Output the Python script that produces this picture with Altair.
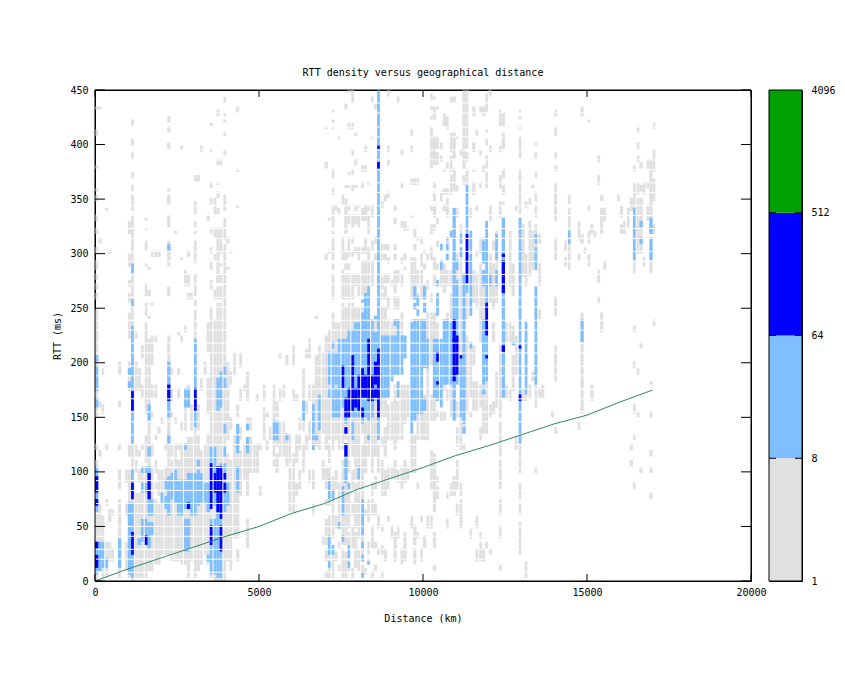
import math
import altair as alt
import pandas as pd

FONT = "DejaVu Sans Mono"
C_GREY, C_LIGHT, C_DARK, C_GREEN = "#e0e0e0", "#7fbfff", "#0000ff", "#00a000"

# column index (100 km bins) -> RTT ranges in ms
GREY = {
 0:[(0,110),(120,125),(150,247),(258,262),(268,271),(277,280),(287,292),(302,305),(320,324),(330,334),(350,352),(357,360),(378,380),(410,413),(432,435)],
 1:[(10,70),(115,120),(160,165),(310,313),(432,435)],2:[(5,60),(155,160),(190,195)],3:[(5,35),(70,75),(120,125),(340,342)],
 4:[(20,35),(55,65),(300,303)],5:[(20,30),(60,65)],7:[(5,75),(85,100),(120,125),(160,165),(190,200)],9:[(10,35),(60,70),(90,100)],
 10:[(4,100),(115,125),(175,200),(222,245),(255,262),(270,275),(290,298),(320,328)],
 11:[(0,290),(293,299),(302,323),(325,334),(340,343),(344,352),(357,361),(369,373),(387,392),(400,403),(418,421)],
 12:[(5,80),(100,110),(115,125),(175,200),(222,226)],13:[(5,80),(90,100),(115,120),(175,195)],
 14:[(5,100),(120,125),(170,180),(205,215)],
 15:[(5,105),(110,135),(155,235),(243,253),(262,265),(268,271),(288,291),(305,312),(321,324),(330,333)],
 16:[(10,220),(240,243),(262,265),(285,288)],17:[(10,105),(115,125),(150,155),(170,180),(200,225),(252,254),(298,302)],
 18:[(15,75),(85,90),(100,110),(130,135),(170,180),(220,223),(298,302)],19:[(15,70),(80,100),(135,140),(298,302)],
 20:[(25,100),(145,150)],21:[(25,105),(120,125)],
 22:[(25,225),(263,265),(268,270),(290,305),(310,312),(326,334),(346,349),(350,353),(358,360),(397,400),(413,416),(422,425)],
 23:[(20,110),(115,125),(150,155),(165,175),(190,195)],24:[(20,125),(145,150),(318,320)],25:[(20,110),(120,125),(170,175),(190,195),(225,228)],
 26:[(15,125),(140,145),(220,223),(295,297),(396,398)],27:[(15,125),(140,170),(228,232),(272,285)],28:[(5,130),(176,180),(258,262),(272,280),(298,302)],
 29:[(20,130),(140,160),(260,263)],
 30:[(5,225),(226,238),(240,247),(252,258),(262,268),(272,280),(293,299),(302,310),(318,321),(326,329),(336,340),(343,346),(368,371)],
 31:[(10,135),(140,160),(368,372)],32:[(15,120),(175,185),(395,398)],33:[(25,125),(190,200)],
 34:[(15,135),(155,185),(210,235),(330,334)],
 35:[(5,250),(268,276),(287,292),(302,305),(318,322),(345,350),(362,365),(393,395),(418,420)],
 36:[(0,240),(258,265),(296,299),(316,322),(336,344),(345,350)],
 37:[(0,253),(260,268),(275,280),(283,298),(302,323),(336,341),(351,355),(363,366),(383,386),(427,430)],
 38:[(0,253),(260,268),(275,280),(288,291),(302,323),(383,386)],
 39:[(0,292),(293,302),(302,308),(314,322),(326,332),(340,343),(347,352),(390,395),(409,411),(421,423),(427,429),(438,443)],
 40:[(20,115),(130,200),(285,288),(310,314)],41:[(10,110),(140,150),(180,190),(300,303)],42:[(40,110),(110,135),(190,210)],
 43:[(20,30),(40,115),(120,130),(150,160),(342,345),(375,378),(430,433)],44:[(80,120),(130,140),(165,175),(195,210)],45:[(95,125),(175,180)],
 46:[(30,55),(80,130),(145,150),(165,190)],47:[(100,130),(140,150)],48:[(100,125)],49:[(100,125),(165,170)],50:[(80,85),(120,125)],
 51:[(130,157),(165,178)],52:[(122,128),(150,155)],53:[(130,140)],
 54:[(105,110),(115,180)],55:[(100,115),(125,130),(150,165)],56:[(115,145),(165,175),(205,210)],57:[(115,145),(170,180)],
 58:[(105,135),(200,205)],59:[(65,105),(85,90),(110,135)],60:[(65,115),(165,175),(200,215)],61:[(80,90),(110,135),(165,170)],
 62:[(85,100),(120,135),(140,150)],63:[(100,125),(140,195)],64:[(120,135),(155,165),(205,212)],65:[(90,100),(130,145),(165,180),(205,220)],
 66:[(60,70),(85,100),(120,180)],67:[(125,205),(240,243)],68:[(120,215)],69:[(35,40),(95,110),(135,210)],
 70:[(5,8),(20,30),(35,55),(70,75),(85,105),(120,225),(296,300),(380,382),(415,417)],
 71:[(5,60),(70,105),(110,125),(130,230),(300,303),(330,333)],
 72:[(5,30),(40,95),(120,244),(258,282),(286,290),(296,300),(302,314),(318,320),(326,334),(338,343),(355,358),(371,373),(375,377),(414,416),(421,423),(430,432)],
 73:[(20,25),(50,60),(85,100),(130,235),(340,343)],74:[(10,14),(30,35),(50,90),(120,235),(337,340),(406,408)],
 75:[(5,30),(35,70),(80,110),(120,253),(258,268),(272,285),(296,302),(302,313),(347,352)],
 76:[(5,25),(35,125),(130,251),(260,268),(272,280),(285,290),(296,302),(318,325),(328,343),(347,350),(360,363),(433,436)],
 77:[(10,14),(20,45),(50,90),(100,110),(115,253),(258,268),(272,280),(285,290),(299,302),(305,313),(328,334),(340,343),(360,362),(372,375),(415,418),(447,450)],
 78:[(5,10),(30,50),(60,70),(85,100),(115,253),(258,268),(272,280),(299,302),(310,313),(325,334),(358,361),(372,376),(392,396),(415,418),(440,450)],
 79:[(12,17),(20,45),(50,90),(95,250),(270,280),(300,306),(328,334),(340,344),(360,363),(383,386),(408,410)],
 80:[(10,30),(40,80),(85,250),(262,268),(272,282),(296,306),(326,334),(342,345)],
 81:[(10,14),(20,125),(135,250),(262,268),(270,293),(300,305),(330,340),(360,365),(376,380)],
 82:[(8,12),(60,65),(100,240),(262,292),(300,313),(330,343),(376,380),(395,398)],
 83:[(15,20),(25,35),(55,75),(115,240),(265,292),(296,305),(320,334),(340,345),(363,366)],
 84:[(5,8),(30,50),(60,75),(80,90),(100,240),(270,292),(305,310),(335,345),(405,408),(440,443)],
 85:[(10,14),(30,35),(60,70),(85,95),(115,240),(296,300),(310,313),(432,436)],
 86:[(25,30),(50,58),(100,125)],
 87:[(5,8),(25,32),(45,50),(80,110),(125,130),(150,180),(220,250),(260,262),(268,279),(295,298),(305,308),(343,346)],
 88:[(20,30),(80,100),(115,140),(150,170),(220,250),(260,270),(275,280),(295,298),(305,308),(349,352)],
 89:[(55,60),(85,105),(130,160),(220,240),(250,260),(275,280),(292,295),(305,308),(352,355),(382,385),(395,398),(445,448)],
 90:[(40,50),(95,105),(130,165),(220,235),(270,275)],
 91:[(20,45),(95,110),(120,180),(220,240),(250,260),(265,285),(295,298),(305,308),(328,332),(340,343)],
 92:[(40,50),(90,100),(130,165),(220,240),(250,260),(275,285),(440,443)],
 93:[(15,30),(85,105),(130,180),(220,245),(270,282),(293,296),(326,329),(361,364),(391,394)],
 94:[(20,45),(90,110),(145,180),(285,288),(295,298),(322,328)],95:[(95,105),(150,180),(321,324)],
 96:[(50,60),(100,135),(155,185),(220,240),(260,268),(272,283),(287,297),(333,336),(365,368),(394,398),(409,412)],
 97:[(15,30),(35,50),(100,135),(155,220),(225,235),(260,268),(272,283),(287,295),(305,308),(317,323),(365,368)],
 98:[(40,45),(85,90),(130,170),(220,235),(255,262),(270,285),(365,368),(312,315)],
 99:[(20,30),(55,60),(130,170),(220,240),(260,270),(272,283),(290,300),(310,314)],
 100:[(30,40),(130,170),(220,240),(260,272),(285,290),(300,303)],101:[(50,60),(130,200),(220,245),(268,275),(295,300)],
 102:[(50,60),(85,120),(147,170),(200,245),(255,262),(295,305),(320,325),(340,345),(378,395),(396,415),(423,425),(432,435),(442,445)],
 103:[(10,15),(30,45),(65,115),(147,170),(200,245),(272,282),(287,296),(321,326),(335,343),(350,355),(362,365),(381,392),(392,407),(423,430),(432,435),(441,444)],
 104:[(75,85),(90,95),(150,156),(220,235),(285,290),(308,312),(328,332),(381,393),(397,407),(432,435)],105:[(148,155),(170,180),(270,285),(350,355),(385,390),(397,400)],
 106:[(148,155),(175,200),(265,290),(340,343),(355,360),(375,378),(418,422),(425,428)],
 107:[(50,55),(75,80),(165,175),(220,245),(270,285),(305,312),(333,350),(355,360),(380,383),(415,424)],
 108:[(80,90),(150,238),(240,262),(272,285),(355,370),(375,390),(395,410),(440,443)],
 109:[(80,95),(165,180),(265,300),(315,325),(357,365),(366,376),(387,410),(440,443)],
 110:[(60,70),(85,110),(125,140),(150,165),(240,300),(335,340),(358,363),(405,408)],
 111:[(50,75),(80,90),(120,145),(145,260),(262,300),(320,325),(390,395)],
 112:[(120,125),(135,150),(170,260),(364,370),(380,400),(402,450)],
 113:[(155,225),(240,262),(275,300),(335,345),(364,376),(385,392),(397,415),(415,449)],
 114:[(40,48),(150,155),(170,215),(245,250),(300,305),(335,340)],115:[(156,182),(200,215),(255,285),(355,365),(375,378),(395,400),(428,433)],
 116:[(20,30),(50,60),(156,182),(250,280),(298,302),(340,345),(410,413)],
 117:[(20,35),(40,45),(130,140),(160,180),(220,290),(300,315),(362,365),(390,395),(430,433)],
 118:[(20,30),(135,182),(240,280),(292,298),(310,315),(375,380),(428,435)],
 119:[(30,35),(135,185),(210,225),(285,300),(362,365),(367,373),(380,382),(384,390),(400,403),(412,414),(430,445)],
 120:[(25,30),(150,160),(255,300),(330,345),(394,397),(445,448)],
 121:[(155,165),(220,235),(250,290),(305,310)],122:[(160,190),(255,320)],
 123:[(10,15),(40,50),(60,75),(85,110),(115,145),(150,215),(335,347),(360,372),(395,398),(418,430)],
 124:[(170,175),(215,220),(280,320),(345,348),(354,363),(369,377),(397,410),(418,427)],125:[(170,180),(220,235)],126:[(165,175),(220,235),(270,320)],127:[(175,196),(200,205),(220,232),(262,290)],
 128:[(120,130),(190,225),(340,344)],
 129:[(25,54),(60,70),(75,90),(100,130),(220,331),(338,364),(367,377),(389,391),(393,396),(398,407),(414,417),(423,426),(429,432)],
 130:[(165,175),(280,320),(320,325)],131:[(5,18),(165,180),(205,222),(236,240),(270,300),(344,348)],
 132:[(170,180),(280,330),(345,350)],133:[(185,190),(285,320),(360,362)],
 134:[(100,105),(160,220),(240,270),(290,320),(320,325),(335,345),(350,355),(370,375),(387,391),(399,401)],135:[(170,175),(240,248),(272,290),(310,316)],
 136:[(170,180)],
 139:[(150,155)],140:[(135,140),(185,215),(245,260),(295,315),(330,355),(357,365),(375,380),(387,392),(410,416),(427,430)],
 143:[(290,295),(305,312)],144:[(286,300),(302,311),(320,325),(323,342),(345,352)],
 147:[(140,145),(295,300),(312,330)],148:[(155,220),(238,245),(310,316),(428,433)],149:[(300,305)],
 150:[(290,300),(310,320),(340,345),(420,423)],151:[(165,180),(318,325)],152:[(315,320)],
 153:[(255,260),(275,285),(365,370),(385,390)],154:[(230,245),(320,340),(348,352)],155:[(285,292),(330,340)],
 159:[(350,352)],160:[(320,325),(335,345)],161:[(320,330)],162:[(325,340)],163:[(105,110),(120,125),(340,350)],
 164:[(85,90),(130,135),(155,160),(195,200),(228,232),(283,292),(294,345),(345,365),(375,380)],
 165:[(150,155),(190,195),(300,350),(355,365),(385,390),(398,401),(413,416)],
 166:[(100,103),(215,218),(300,350),(358,362),(380,383)],167:[(290,295),(355,365)],
 168:[(330,345),(360,365),(380,385)],
 169:[(75,80),(100,105),(115,120),(150,155),(180,183),(283,292),(320,340),(340,385)],
 170:[(235,240),(318,325),(350,368),(375,395),(416,419)],
}
LIGHT = {
 0:[(7,34),(65,103),(160,166),(175,197),(203,206)],1:[(10,34)],2:[(13,19),(22,34)],3:[(13,19)],7:[(13,37)],
 10:[(7,50),(53,71),(177,183),(190,195)],11:[(4,71),(77,102),(126,221),(221,225),(226,229),(230,233),(254,257),(284,290)],
 13:[(34,37)],14:[(38,56),(83,89),(99,103)],15:[(38,56),(83,89),(99,103)],16:[(32,53),(62,103),(116,123),(149,161)],17:[(42,53),(62,75)],
 20:[(74,80)],21:[(85,92),(68,76)],22:[(151,201),(126,134),(60,95),(305,308)],23:[(75,97)],24:[(72,100)],25:[(62,93)],26:[(62,93)],27:[(68,92),(28,56),(122,124),(161,176)],
 28:[(28,56),(68,99),(161,176)],29:[(62,99)],30:[(60,99),(143,221)],31:[(70,100),(105,110)],32:[(74,99)],33:[(74,90)],34:[(64,90),(20,24)],
 35:[(7,56),(68,123)],36:[(7,56),(70,123)],37:[(4,105),(157,184)],38:[(4,108),(160,190)],39:[(65,108),(115,123),(135,143),(178,185),(190,197)],
 40:[(70,90)],43:[(83,105),(117,132),(134,143)],46:[(117,132),(140,143)],
 54:[(130,146)],55:[(130,146)],58:[(131,134)],63:[(148,164)],66:[(122,124),(129,161)],67:[(131,133)],68:[(140,170)],
 71:[(12,16),(25,40),(77,91),(170,175),(180,209)],72:[(25,31),(77,82),(150,210),(215,218)],73:[(180,209),(150,175)],74:[(50,53),(150,222)],
 75:[(36,40),(60,85),(160,222)],76:[(90,125),(145,222)],77:[(12,16),(21,25),(28,31),(85,90),(150,223),(221,229)],78:[(130,145),(150,229)],
 79:[(150,236)],80:[(95,105),(150,236)],81:[(5,8),(20,24),(30,36),(42,75),(145,240),(241,244),(257,258)],82:[(150,262)],83:[(15,18),(130,135),(148,268)],
 84:[(150,240)],85:[(165,228),(240,243)],86:[(130,452)],87:[(170,225)],88:[(170,225)],89:[(170,225)],90:[(185,225)],
 91:[(190,225),(234,238)],92:[(170,183),(190,238)],93:[(190,225)],94:[(205,225)],96:[(135,221),(221,236)],97:[(148,238),(251,254),(260,268)],
 98:[(155,238),(245,248),(252,260)],99:[(155,238)],100:[(158,166),(196,238),(248,254),(260,268)],101:[(195,221)],
 103:[(170,221)],104:[(165,221),(245,262),(272,276)],105:[(160,221),(287,292),(305,308)],106:[(181,238)],107:[(181,240),(305,308),(312,315),(296,299)],
 108:[(181,235),(317,320)],109:[(149,342)],110:[(181,275),(286,292)],111:[(150,205),(297,304),(310,317)],112:[(137,140),(146,260),(262,280)],
 113:[(264,361)],114:[(215,218),(245,260),(262,300),(305,320)],118:[(173,176),(180,238),(270,285),(293,310)],
 119:[(183,202),(203,326),(326,329)],120:[(270,282)],122:[(270,285),(295,312),(314,317)],124:[(170,332)],127:[(216,218)],
 129:[(126,331)],131:[(172,176),(178,221),(221,236)],134:[(180,240),(240,270),(285,305),(310,317)],
 144:[(311,314),(317,320)],148:[(221,238)],
 164:[(294,301),(302,313),(315,322),(323,334),(338,341)],166:[(311,313),(326,329)],169:[(296,301),(302,313),(320,322),(323,332)],
}
DARK = {
 0:[(13,19),(19,22),(31,34),(70,73),(83,95)],11:[(25,34),(35,38),(41,44),(77,89),(158,174)],15:[(35,40)],16:[(77,99)],22:[(167,180)],
 28:[(68,71)],30:[(156,158),(161,166),(167,176)],
 35:[(35,41),(41,50),(68,83),(83,107)],36:[(83,99)],37:[(65,83),(83,103)],38:[(29,40),(41,50),(59,62),(65,83),(83,103)],39:[(83,89),(93,99)],
 75:[(177,197)],76:[(116,125),(135,140),(151,166)],77:[(157,176),(152,155)],78:[(157,199),(203,206)],79:[(161,177)],80:[(158,167),(169,187)],
 81:[(152,158),(169,195)],82:[(169,189)],83:[(167,196),(198,221)],84:[(167,189)],85:[(169,175),(181,201)],86:[(152,203),(203,213),(378,383),(396,398)],
 104:[(180,183),(201,209)],109:[(183,221),(221,238)],110:[(189,196),(198,209),(210,224)],111:[(204,206)],113:[(275,317)],
 119:[(204,206),(226,229),(230,238),(239,250),(251,253)],124:[(210,215),(266,271),(273,278),(279,284),(287,292),(298,300)],129:[(167,170),(213,215)],
}
LINE_KM = [0,1000,2000,3000,4000,5000,6000,7000,8000,9000,10000,11000,12000,13000,14000,15000,16000,17000]
LINE_MS = [0,11,21,31,41,50,62,71,84,94,104,115,124,134,144,152,164,175]
GAP_MS = [8,20,29,41,50,62,71,83,92,104,113,125,134,146,155,167,176,188,197,209,218,230,239,251,260,272,281,293,302,314,323,335,344,356,365,377,386,395,407,416,429,438]
GAP_KM = [300,600,900,1200,1500,1800,2100,2400,2700,3000,3300,3600,3900,4200,4500,4800,5100,5400,5700,6000,6300,6600,6900,7200,7500,7800,8100,8400,8700,9000,9300,9600,9900,10200,10500,10800,11100,11400,11700,12000,12300,12600,12900,13200,13500,13800,14100,14400,14700,15000,15300,15600,15900,16200,16500,16800,17100]
XTICKS = [0,5000,10000,15000,20000]
YTICKS = [0,50,100,150,200,250,300,350,400,450]
BAR_LOW = [1,8,64,512]
BAR_HIGH = [8,64,512,4096]
BAR_COLORS = [C_GREY,C_LIGHT,C_DARK,C_GREEN]
BAR_LABELS = [1,8,64,512,4096]
BAR_TICKS = [8,64,512]

def cells(table, level):
    rows = []
    for col, spans in table.items():
        for lo, hi in spans:
            rows.append({"x":col*100,"x2":(col+1)*100,"y":math.floor(lo/3)*3,"y2":math.ceil(hi/3)*3,"level":level})
    return rows

df = pd.DataFrame(cells(GREY,0)+cells(LIGHT,1)+cells(DARK,2))
W, H = 656, 491
xs = alt.Scale(domain=[0,20000], nice=False)
ys = alt.Scale(domain=[0,450], nice=False)
xax = alt.Axis(values=XTICKS, title="Distance (km)", grid=False, ticks=False, domain=False, labelPadding=6, titlePadding=16, labelAngle=0, format="d", labelFlush=False, labelOverlap=False)
yax = alt.Axis(values=YTICKS, title="RTT (ms)", grid=False, ticks=False, domain=False, labelPadding=7, titlePadding=7, format="d", labelFlush=False, labelOverlap=False)
X = lambda f: alt.X(f, scale=xs, axis=xax)
Y = lambda f: alt.Y(f, scale=ys, axis=yax)

rects = alt.Chart(df).mark_rect(clip=True).encode(
    x=X("x:Q"), x2="x2:Q", y=Y("y:Q"), y2="y2:Q",
    color=alt.Color("level:O", scale=alt.Scale(domain=[0,1,2], range=[C_GREY,C_LIGHT,C_DARK]), legend=None),
    order="level:Q")
hgaps = alt.Chart(pd.DataFrame({"y":GAP_MS})).mark_rule(color="white", strokeWidth=1).encode(y=Y("y:Q"), x=alt.value(1), x2=alt.value(W-1))
vgaps = alt.Chart(pd.DataFrame({"x":GAP_KM})).mark_rule(color="white", strokeWidth=1).encode(x=X("x:Q"), y=alt.value(1), y2=alt.value(H-1))
line = alt.Chart(pd.DataFrame({"x":LINE_KM,"y":LINE_MS})).mark_line(color="#2e8b57", strokeWidth=1).encode(x=X("x:Q"), y=Y("y:Q"))
tx = pd.DataFrame({"x":XTICKS}); ty = pd.DataFrame({"y":YTICKS})
def rule_x(y0,y1):
    return alt.Chart(tx).mark_rule(color="black", strokeWidth=1).encode(x=X("x:Q"), y=alt.value(y0), y2=alt.value(y1))
def rule_y(x0,x1):
    return alt.Chart(ty).mark_rule(color="black", strokeWidth=1).encode(y=Y("y:Q"), x=alt.value(x0), x2=alt.value(x1))
frame = alt.Chart(pd.DataFrame({"a":[0]})).mark_rect(filled=False, stroke="black", strokeWidth=1).encode(
    x=alt.value(0), x2=alt.value(W), y=alt.value(0), y2=alt.value(H))
main = alt.layer(rects, hgaps, vgaps, line, rule_x(H-7,H), rule_x(0,7), rule_y(0,10), rule_y(W-10,W), frame).properties(
    width=W, height=H, title=alt.TitleParams("RTT density versus geographical distance", anchor="middle", fontSize=10, font=FONT, fontWeight="normal", offset=7, color="black"))

bs = alt.Scale(type="log", base=2, domain=[1,4096], nice=False)
bax = alt.Axis(orient="right", values=BAR_LABELS, title=None, grid=False, ticks=False, domain=False, labelPadding=9, format="d", labelFlush=False, labelOverlap=False)
bar_df = pd.DataFrame({"lo":BAR_LOW,"hi":BAR_HIGH,"c":BAR_COLORS})
bar = alt.Chart(bar_df).mark_rect().encode(
    y=alt.Y("lo:Q", scale=bs, axis=bax), y2="hi:Q", x=alt.value(0), x2=alt.value(33), color=alt.Color("c:N", scale=None, legend=None))
bt = pd.DataFrame({"y":BAR_TICKS})
bt1 = alt.Chart(bt).mark_rule(color="black", strokeWidth=1).encode(y=alt.Y("y:Q", scale=bs, axis=bax), x=alt.value(0), x2=alt.value(7))
bt2 = alt.Chart(bt).mark_rule(color="black", strokeWidth=1).encode(y=alt.Y("y:Q", scale=bs, axis=bax), x=alt.value(26), x2=alt.value(33))
bframe = alt.Chart(pd.DataFrame({"a":[0]})).mark_rect(filled=False, stroke="black", strokeWidth=1).encode(
    x=alt.value(0), x2=alt.value(33), y=alt.value(0), y2=alt.value(H))
cbar = alt.layer(bar, bt1, bt2, bframe).properties(width=33, height=H)

chart = alt.hconcat(main, cbar, spacing=1).resolve_scale(x="independent", y="independent", color="independent").properties(
    padding={"left":44,"top":59,"right":0,"bottom":0}, background="white"
).configure_view(stroke="black", strokeWidth=1).configure_axis(
    labelFont=FONT, titleFont=FONT, labelFontSize=10, titleFontSize=10, titleFontWeight="normal", labelColor="black", titleColor="black"
)
chart.save("out.html", embed_options={"renderer":"svg","actions":False})
